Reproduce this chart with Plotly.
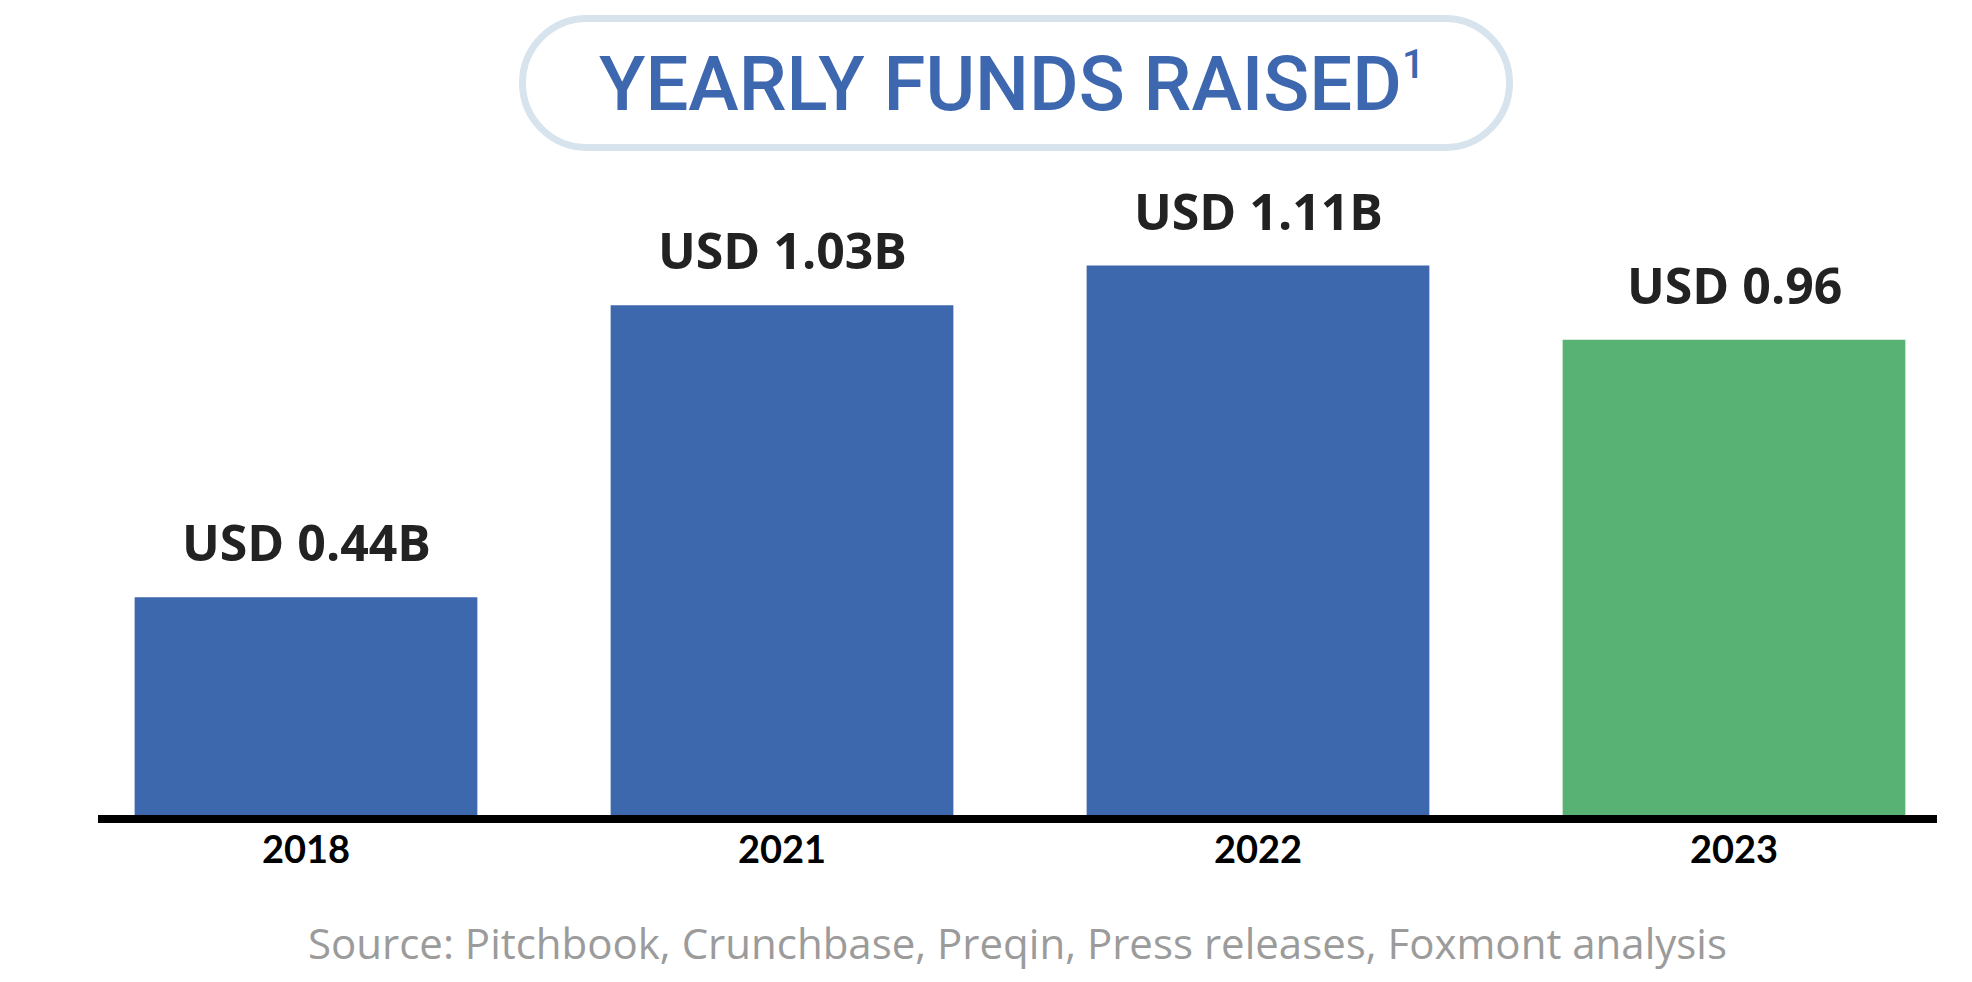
import plotly.graph_objects as go

# data
years = ["2018", "2021", "2022", "2023"]
funds = [0.44, 1.03, 1.11, 0.96]
value_labels = ["USD 0.44B", "USD 1.03B", "USD 1.11B", "USD 0.96"]
bar_colors = ["#3d68ae", "#3d68ae", "#3d68ae", "#58b274"]

# the page body adds an 8px margin, so the figure is drawn 8px in and kept
# small enough to fit the window without scrollbars
OFF = 8
W, H = 1972 - 2 * OFF, 982 - 2 * OFF
BASE = 815 - OFF       # baseline in figure px (margin top 0)
PPU = 495              # px per USD bn
SLOT = 476             # px between bar centres
FIRST = 306 - OFF      # centre of first bar


def px(x):
    # reference-screen x -> paper
    return (x - OFF) / W


def py(y):
    # reference-screen y -> paper
    return (BASE - (y - OFF)) / BASE


fig = go.Figure()

fig.add_trace(go.Bar(
    x=years, y=funds,
    marker=dict(color=bar_colors, line=dict(width=0)),
    width=0.72,
    hoverinfo="x+y",
))

# value labels above bars (category index, since "2018" would read as a position)
for i, (v, lab) in enumerate(zip(funds, value_labels)):
    fig.add_annotation(
        x=i, y=v, xref="x", yref="y", text=f"<b>{lab}</b>", showarrow=False,
        yanchor="bottom", yshift=19,
        font=dict(family="Open Sans", size=50, color="#222222"),
    )

# pill frame around the title
x0, x1, y0, y1 = 522.5, 1509.5, 18.5, 147.5
r = (y1 - y0) / 2
k = 0.5523 * r
pts = [
    ("M", [(x0 + r, y0)]),
    ("L", [(x1 - r, y0)]),
    ("C", [(x1 - r + k, y0), (x1, y0 + r - k), (x1, y0 + r)]),
    ("C", [(x1, y0 + r + k), (x1 - r + k, y1), (x1 - r, y1)]),
    ("L", [(x0 + r, y1)]),
    ("C", [(x0 + r - k, y1), (x0, y0 + r + k), (x0, y0 + r)]),
    ("C", [(x0, y0 + r - k), (x0 + r - k, y0), (x0 + r, y0)]),
]
path = " ".join(
    cmd + " " + " ".join(f"{px(a):.5f},{py(b):.5f}" for a, b in p) for cmd, p in pts
) + " Z"
fig.add_shape(type="path", path=path, xref="paper", yref="paper",
              line=dict(color="#d7e4ed", width=7), fillcolor="rgba(0,0,0,0)")

fig.add_annotation(
    x=px(1012), y=py(84), xref="paper", yref="paper",
    text="YEARLY FUNDS RAISED<sup><span style='font-size:40px'>1</span></sup>",
    showarrow=False, xanchor="center", yanchor="middle",
    font=dict(family="Roboto", size=76, color="#3d67ae", weight=500),
)

# baseline
fig.add_shape(type="line", xref="paper", yref="paper",
              x0=px(98), x1=px(1937), y0=py(819), y1=py(819),
              line=dict(color="black", width=8))

# source note
fig.add_annotation(
    x=px(1017), y=py(943), xref="paper", yref="paper",
    text="Source: Pitchbook, Crunchbase, Preqin, Press releases, Foxmont analysis",
    showarrow=False, xanchor="center", yanchor="middle",
    font=dict(family="Open Sans", size=42, color="#9b9b9b"),
)

fig.update_layout(
    width=W, height=H,
    margin=dict(l=0, r=0, t=0, b=H - BASE),
    paper_bgcolor="white", plot_bgcolor="white",
    showlegend=False,
    bargap=0.28,
)
fig.update_xaxes(
    type="category", range=[-FIRST / SLOT, (W - FIRST) / SLOT],
    showgrid=False, zeroline=False, showline=False, ticks="",
    ticklabelstandoff=9,
    tickfont=dict(family="Lato", size=38, color="black", weight="bold"),
)
fig.update_yaxes(
    range=[0, BASE / PPU], showticklabels=False, ticks="",
    showgrid=False, zeroline=False, showline=False,
)

fig.write_html("out.html")
